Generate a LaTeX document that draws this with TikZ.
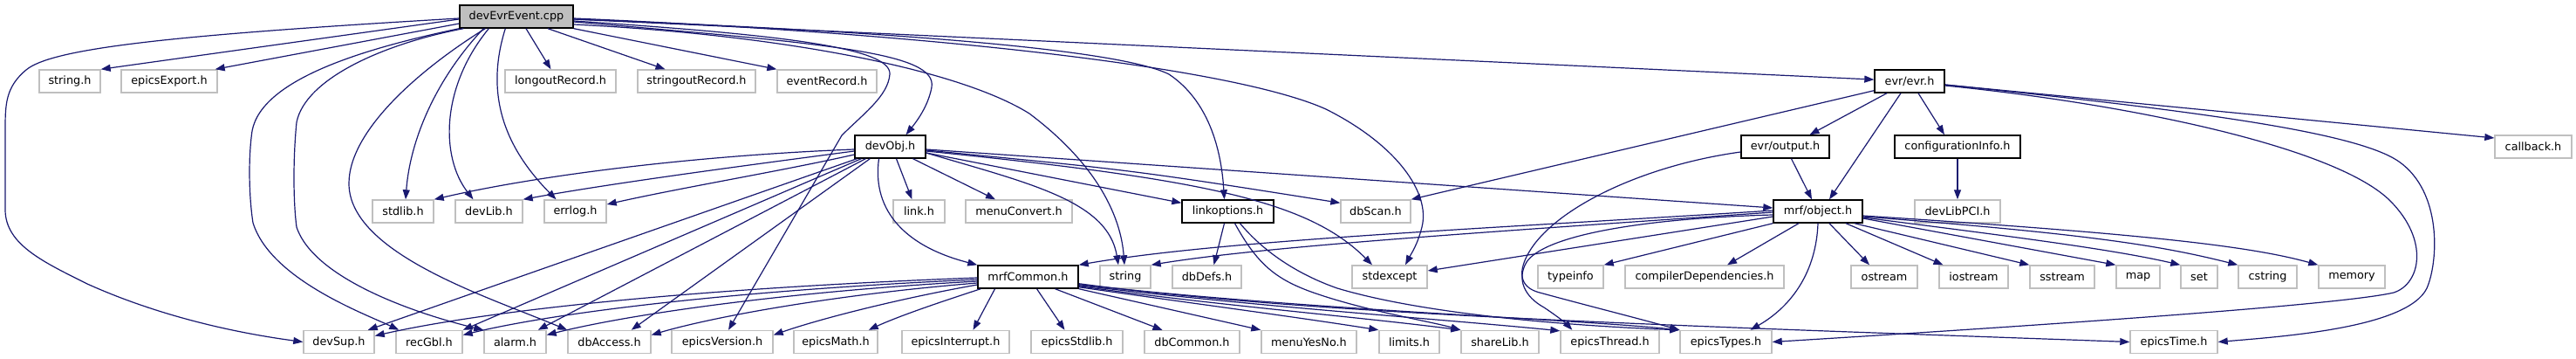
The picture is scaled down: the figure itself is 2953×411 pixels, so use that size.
\documentclass[tikz,border=0pt]{standalone}
\usepackage{fontspec}
\setmainfont{DejaVu Sans}
\usetikzlibrary{arrows.meta}
\definecolor{edgeblue}{HTML}{191970}
\definecolor{extgray}{HTML}{BFBFBF}
\newcommand\nd[5]{\node[#1,minimum width=#2pt] (#3) at (#4) {#5};}
\begin{document}
\begin{tikzpicture}[x=1pt,y=-1pt,
 box/.style={rectangle, minimum height=26pt, inner sep=0pt, font=\fontsize{12.8}{14}\selectfont, line width=1.4pt},
 ext/.style={box, draw=extgray, fill=white},
 doc/.style={box, draw=black, fill=white},
 rootbox/.style={box, draw=black, fill=extgray},
 edg/.style={draw=edgeblue, line width=1.2pt, -{Triangle[length=11pt,width=8pt]}}]
\fill[white] (0,0) rectangle (2953,411);
\useasboundingbox (0,0) rectangle (2953,411);
% row 1
\nd{rootbox}{130}{root}{592,19}{devEvrEvent.cpp}
% row 2
\nd{ext}{70}{stringh}{80,93}{string.h}
\nd{ext}{110}{epicsExport}{194,93}{epicsExport.h}
\nd{ext}{127}{longout}{642.5,93}{longoutRecord.h}
\nd{ext}{135}{stringout}{798.5,93}{stringoutRecord.h}
\nd{ext}{114}{eventRec}{948,93}{eventRecord.h}
\nd{doc}{80}{evrh}{2189,93}{evr/evr.h}
% row 3
\nd{doc}{81}{devObj}{1020.5,168}{devObj.h}
\nd{doc}{101}{evrout}{2046.5,168}{evr/output.h}
\nd{doc}{144}{confInfo}{2244,168}{configurationInfo.h}
\nd{ext}{88}{callback}{2904,168}{callback.h}
% row 4
\nd{ext}{70}{stdlib}{462,242}{stdlib.h}
\nd{ext}{77}{devLib}{560.5,242}{devLib.h}
\nd{ext}{71}{errlog}{659.5,242}{errlog.h}
\nd{ext}{59}{linkh}{1053.5,242}{link.h}
\nd{ext}{122}{menuConvert}{1168,242}{menuConvert.h}
\nd{doc}{105}{linkopt}{1407.5,242}{linkoptions.h}
\nd{ext}{80}{dbScan}{1577,242}{dbScan.h}
\nd{doc}{102}{mrfobj}{2084,242}{mrf/object.h}
\nd{ext}{98}{devLibPCI}{2244,242}{devLibPCI.h}
% row 5
\nd{doc}{115}{mrfCommon}{1178.5,317}{mrfCommon.h}
\nd{ext}{58}{stringstd}{1290,317}{string}
\nd{ext}{79}{dbDefs}{1383.5,317}{dbDefs.h}
\nd{ext}{86}{stdexcept}{1593,317}{stdexcept}
\nd{ext}{75}{typeinfo}{1800.5,317}{typeinfo}
\nd{ext}{182}{compDep}{1954,317}{compilerDependencies.h}
\nd{ext}{76}{ostream}{2160,317}{ostream}
\nd{ext}{79}{iostream}{2262.5,317}{iostream}
\nd{ext}{74}{sstream}{2364,317}{sstream}
\nd{ext}{50}{mapstd}{2451,317}{map}
\nd{ext}{42}{setstd}{2521,317}{set}
\nd{ext}{67}{cstring}{2599.5,317}{cstring}
\nd{ext}{76}{memory}{2696,317}{memory}
% row 6
\nd{ext}{81}{devSup}{388.5,391.5}{devSup.h}
\nd{ext}{76}{recGbl}{492,391.5}{recGbl.h}
\nd{ext}{71}{alarm}{590.5,391.5}{alarm.h}
\nd{ext}{95}{dbAccess}{698.5,391.5}{dbAccess.h}
\nd{ext}{116}{epicsVersion}{828,391.5}{epicsVersion.h}
\nd{ext}{96}{epicsMath}{958,391.5}{epicsMath.h}
\nd{ext}{123}{epicsInterrupt}{1095.5,391.5}{epicsInterrupt.h}
\nd{ext}{105}{epicsStdlib}{1234.5,391.5}{epicsStdlib.h}
\nd{ext}{109}{dbCommon}{1366.5,391.5}{dbCommon.h}
\nd{ext}{109}{menuYesNo}{1500.5,391.5}{menuYesNo.h}
\nd{ext}{69}{limits}{1615.5,391.5}{limits.h}
\nd{ext}{89}{shareLib}{1719.5,391.5}{shareLib.h}
\nd{ext}{113}{epicsThread}{1845.5,391.5}{epicsThread.h}
\nd{ext}{105}{epicsTypes}{1978.5,391.5}{epicsTypes.h}
\nd{ext}{100}{epicsTime}{2492,391.5}{epicsTime.h}

% ---- edges from devEvrEvent.cpp
\draw[edg] ([yshift=-3pt]root.west) -- (stringh.north east);
\draw[edg] ([yshift=-8pt]root.west) -- ([xshift=-3pt]epicsExport.north east);
\draw[edg] ([xshift=11pt]root.south) -- ([xshift=-11pt]longout.north);
\draw[edg] ([xshift=36pt]root.south) -- ([xshift=-36pt]stringout.north);
\draw[edg] (root.south east) -- (eventRec.north west);
\draw[edg] ([yshift=-2pt]root.west) .. controls (200,40) and (60,55) .. (30,80)
  .. controls (6,100) and (6,120) .. (6,150) -- (6,240)
  .. controls (6,280) and (50,300) .. (100,325)
  .. controls (200,370) and (300,385) .. (devSup.west);
\draw[edg] (root.south west) .. controls (420,55) and (300,90) .. (289,150)
  .. controls (284,185) and (286,230) .. (290,255)
  .. controls (310,320) and (420,360) .. ([xshift=4pt]recGbl.north west);
\draw[edg] ([xshift=5pt]root.south west) .. controls (440,50) and (350,90) .. (340,140)
  .. controls (336,180) and (336,230) .. (340,260)
  .. controls (360,320) and (480,360) .. (alarm.north west);
\draw[edg] ([xshift=30pt]root.south west) .. controls (480,80) and (400,150) .. (400,210)
  .. controls (400,290) and (560,340) .. (dbAccess.north west);
\draw[edg] ([xshift=28pt]root.south west) .. controls (500,90) and (470,160) .. ([xshift=3pt]stdlib.north);
\draw[edg] ([xshift=34pt]root.south west) .. controls (505,100) and (505,180) .. ([xshift=-18pt]devLib.north);
\draw[edg] ([xshift=53pt]root.south west) .. controls (555,110) and (580,170) .. ([xshift=-22pt]errlog.north);
\draw[edg] ([yshift=-6pt]root.east) .. controls (950,50) and (1075,60) .. (1068,100)
  .. controls (1064,122) and (1050,140) .. ([xshift=18pt]devObj.north);
\draw[edg] ([yshift=-9pt]root.east) .. controls (900,40) and (1100,80) .. (1180,130)
  .. controls (1260,190) and (1285,250) .. ([xshift=-1pt]stringstd.north);
\draw[edg] ([yshift=-3pt]root.east) .. controls (1000,35) and (1280,55) .. (1340,85)
  .. controls (1385,115) and (1400,170) .. ([xshift=-4pt]linkopt.north);
\draw[edg] ([yshift=-2pt]root.east) .. controls (1100,40) and (1420,80) .. (1520,125)
  .. controls (1600,165) and (1640,220) .. (1630,260)
  .. controls (1625,280) and (1618,290) .. ([xshift=18pt]stdexcept.north);
\draw[edg] (root) -- (evrh);
\draw[edg] ([yshift=-5pt]root.east) .. controls (900,40) and (1022,55) .. (1020,85)
  .. controls (1018,110) and (990,130) .. (965,155) -- ([xshift=7pt]epicsVersion.north);

% ---- edges from devObj.h
\draw[edg] ([yshift=-3pt]devObj.west) .. controls (800,178) and (620,200) .. (stdlib.north east);
\draw[edg] ([yshift=-5pt]devObj.west) .. controls (850,190) and (700,210) .. (devLib.north east);
\draw[edg] ([yshift=-9pt]devObj.west) .. controls (900,195) and (780,215) .. ([yshift=8pt]errlog.east);
\draw[edg] ([xshift=3pt]devObj.south west) -- ([xshift=-8pt]devSup.north east);
\draw[edg] ([xshift=8pt]devObj.south west) -- (recGbl.north east);
\draw[edg] ([xshift=13pt]devObj.south west) -- ([xshift=-10pt]alarm.north east);
\draw[edg] ([xshift=18pt]devObj.south west) -- ([xshift=-23pt]dbAccess.north east);
\draw[edg] ([xshift=7pt]devObj.south) -- ([xshift=-8pt]linkh.north);
\draw[edg] ([xshift=26pt]devObj.south) -- ([xshift=-27pt]menuConvert.north);
\draw[edg] ([xshift=-13pt]devObj.south) .. controls (1000,235) and (1030,280) .. (mrfCommon.north west);
\draw[edg] ([yshift=-7pt]devObj.east) .. controls (1180,210) and (1270,230) .. ([xshift=-8pt]stringstd.north);
\draw[edg] ([yshift=-7pt]devObj.east) -- ([yshift=-4pt]linkopt.north west);
\draw[edg] ([yshift=-4pt]devObj.east) .. controls (1300,195) .. ([yshift=-4pt]dbScan.north west);
\draw[edg] ([yshift=-5pt]devObj.east) .. controls (1380,205) and (1500,230) .. ([xshift=-20pt]stdexcept.north);
\draw[edg] ([yshift=-3pt]devObj.east) -- ([yshift=4pt]mrfobj.west);

% ---- edges from linkoptions.h
\draw[edg] ([xshift=-4pt]linkopt.south) -- ([xshift=8pt]dbDefs.north);
\draw[edg] ([xshift=8pt]linkopt.south) .. controls (1440,300) and (1460,318) .. (1500,333)
  .. controls (1560,355) and (1640,368) .. (shareLib.north west);
\draw[edg] ([xshift=14pt]linkopt.south) .. controls (1450,290) and (1490,315) .. (1533,330)
  .. controls (1650,365) and (1850,375) .. (epicsTypes.north west);

% ---- edges from mrfCommon.h
\draw[edg] ([yshift=-1pt]mrfCommon.west) .. controls (800,330) and (560,355) .. ([yshift=7pt]devSup.east);
\draw[edg] ([yshift=-3pt]mrfCommon.west) .. controls (850,332) and (640,357) .. ([yshift=8pt]recGbl.east);
\draw[edg] ([yshift=-5pt]mrfCommon.west) .. controls (900,334) and (720,360) .. ([yshift=8pt]alarm.east);
\draw[edg] ([yshift=-7pt]mrfCommon.west) .. controls (960,337) and (820,362) .. ([yshift=8pt]dbAccess.east);
\draw[edg] ([yshift=-9pt]mrfCommon.west) .. controls (1030,342) and (940,365) .. ([yshift=8pt]epicsVersion.east);
\draw[edg] ([xshift=4pt]mrfCommon.south west) .. controls (1080,345) and (1030,362) .. ([xshift=-11pt]epicsMath.north east);
\draw[edg] ([xshift=-38pt]mrfCommon.south) -- ([xshift=20pt]epicsInterrupt.north);
\draw[edg] ([xshift=10pt]mrfCommon.south) -- ([xshift=-14pt]epicsStdlib.north);
\draw[edg] ([xshift=31pt]mrfCommon.south) -- ([xshift=-34pt]dbCommon.north);
\draw[edg] (mrfCommon.south east) -- (menuYesNo.north west);
\draw[edg] ([yshift=2pt]mrfCommon.south east) .. controls (1350,345) and (1480,362) .. (limits.north west);
\draw[edg] ([yshift=3pt]mrfCommon.south east) .. controls (1400,350) and (1550,362) .. (shareLib.north west);
\draw[edg] ([yshift=4pt]mrfCommon.south east) .. controls (1450,352) and (1650,365) .. ([yshift=-1pt]epicsThread.north west);
\draw[edg] ([yshift=5pt]mrfCommon.south east) .. controls (1500,355) and (1800,365) .. (epicsTypes.north west);
\draw[edg] ([yshift=6pt]mrfCommon.south east) .. controls (1500,360) and (1900,372) .. (epicsTime.west);

% ---- edges from mrf/object.h
\draw[edg] ([yshift=1pt]mrfobj.west) .. controls (1700,262) and (1400,275) .. (mrfCommon.north east);
\draw[edg] ([yshift=-1pt]mrfobj.west) .. controls (1700,266) and (1450,282) .. (stringstd.north east);
\draw[edg] ([yshift=-6pt]mrfobj.west) -- ([yshift=7pt]stdexcept.east);
\draw[edg] (mrfobj.south west) -- (typeinfo.north east);
\draw[edg] ([xshift=-22pt]mrfobj.south) -- ([xshift=26pt]compDep.north);
\draw[edg] ([xshift=13pt]mrfobj.south) -- ([xshift=-17pt]ostream.north);
\draw[edg] ([xshift=32pt]mrfobj.south) -- ([xshift=-35pt]iostream.north);
\draw[edg] ([xshift=-10pt]mrfobj.south east) -- (sstream.north west);
\draw[edg] ([yshift=-8pt]mrfobj.east) -- (mapstd.north west);
\draw[edg] ([yshift=-7pt]mrfobj.east) .. controls (2300,270) and (2420,285) .. (setstd.north west);
\draw[edg] ([yshift=-6pt]mrfobj.east) .. controls (2399,268) and (2480,282) .. (cstring.north west);
\draw[edg] ([yshift=-5pt]mrfobj.east) .. controls (2463,268) and (2580,282) .. (memory.north west);
\draw[edg] (mrfobj.south) .. controls (2082,310) and (2055,350) .. ([xshift=28pt]epicsTypes.north);
\draw[edg] ([yshift=-4pt]mrfobj.west) .. controls (1880,250) and (1770,270) .. (1750,300)
  .. controls (1738,320) and (1748,340) .. (1770,352)
  .. controls (1785,362) and (1795,370) .. ([xshift=14pt]epicsThread.north west);

% ---- edges from evr/output.h
\draw[edg] ([xshift=7pt]evrout.south) -- ([xshift=-7pt]mrfobj.north);
\draw[edg] ([yshift=-6pt]evrout.west) .. controls (1880,190) and (1780,240) .. (1752,290)
  .. controls (1738,315) and (1745,330) .. (1765,335)
  .. controls (1820,350) and (1880,365) .. (epicsTypes.north west);

% ---- edges from evr/evr.h
\draw[edg] ([yshift=3pt]evrh.south west) -- (dbScan.north east);
\draw[edg] ([xshift=-26pt]evrh.south) -- ([xshift=28pt]evrout.north);
\draw[edg] ([xshift=-10pt]evrh.south) -- ([xshift=13pt]mrfobj.north);
\draw[edg] ([xshift=10pt]evrh.south) -- ([xshift=-15pt]confInfo.north);
\draw[edg] ([yshift=-4pt]evrh.east) -- ([yshift=10pt]callback.west);
\draw[edg] ([yshift=-5pt]evrh.east) .. controls (2450,120) and (2680,170) .. (2740,230)
  .. controls (2785,275) and (2775,325) .. (2744,335)
  .. controls (2680,350) and (2300,375) .. (epicsTypes.east);
\draw[edg] ([yshift=-4pt]evrh.east) .. controls (2500,125) and (2700,150) .. (2750,185)
  .. controls (2800,220) and (2795,300) .. (2782,330)
  .. controls (2760,375) and (2620,385) .. (epicsTime.east);

% ---- configurationInfo.h
\draw[edg] (confInfo) -- (devLibPCI);
\end{tikzpicture}
\end{document}
